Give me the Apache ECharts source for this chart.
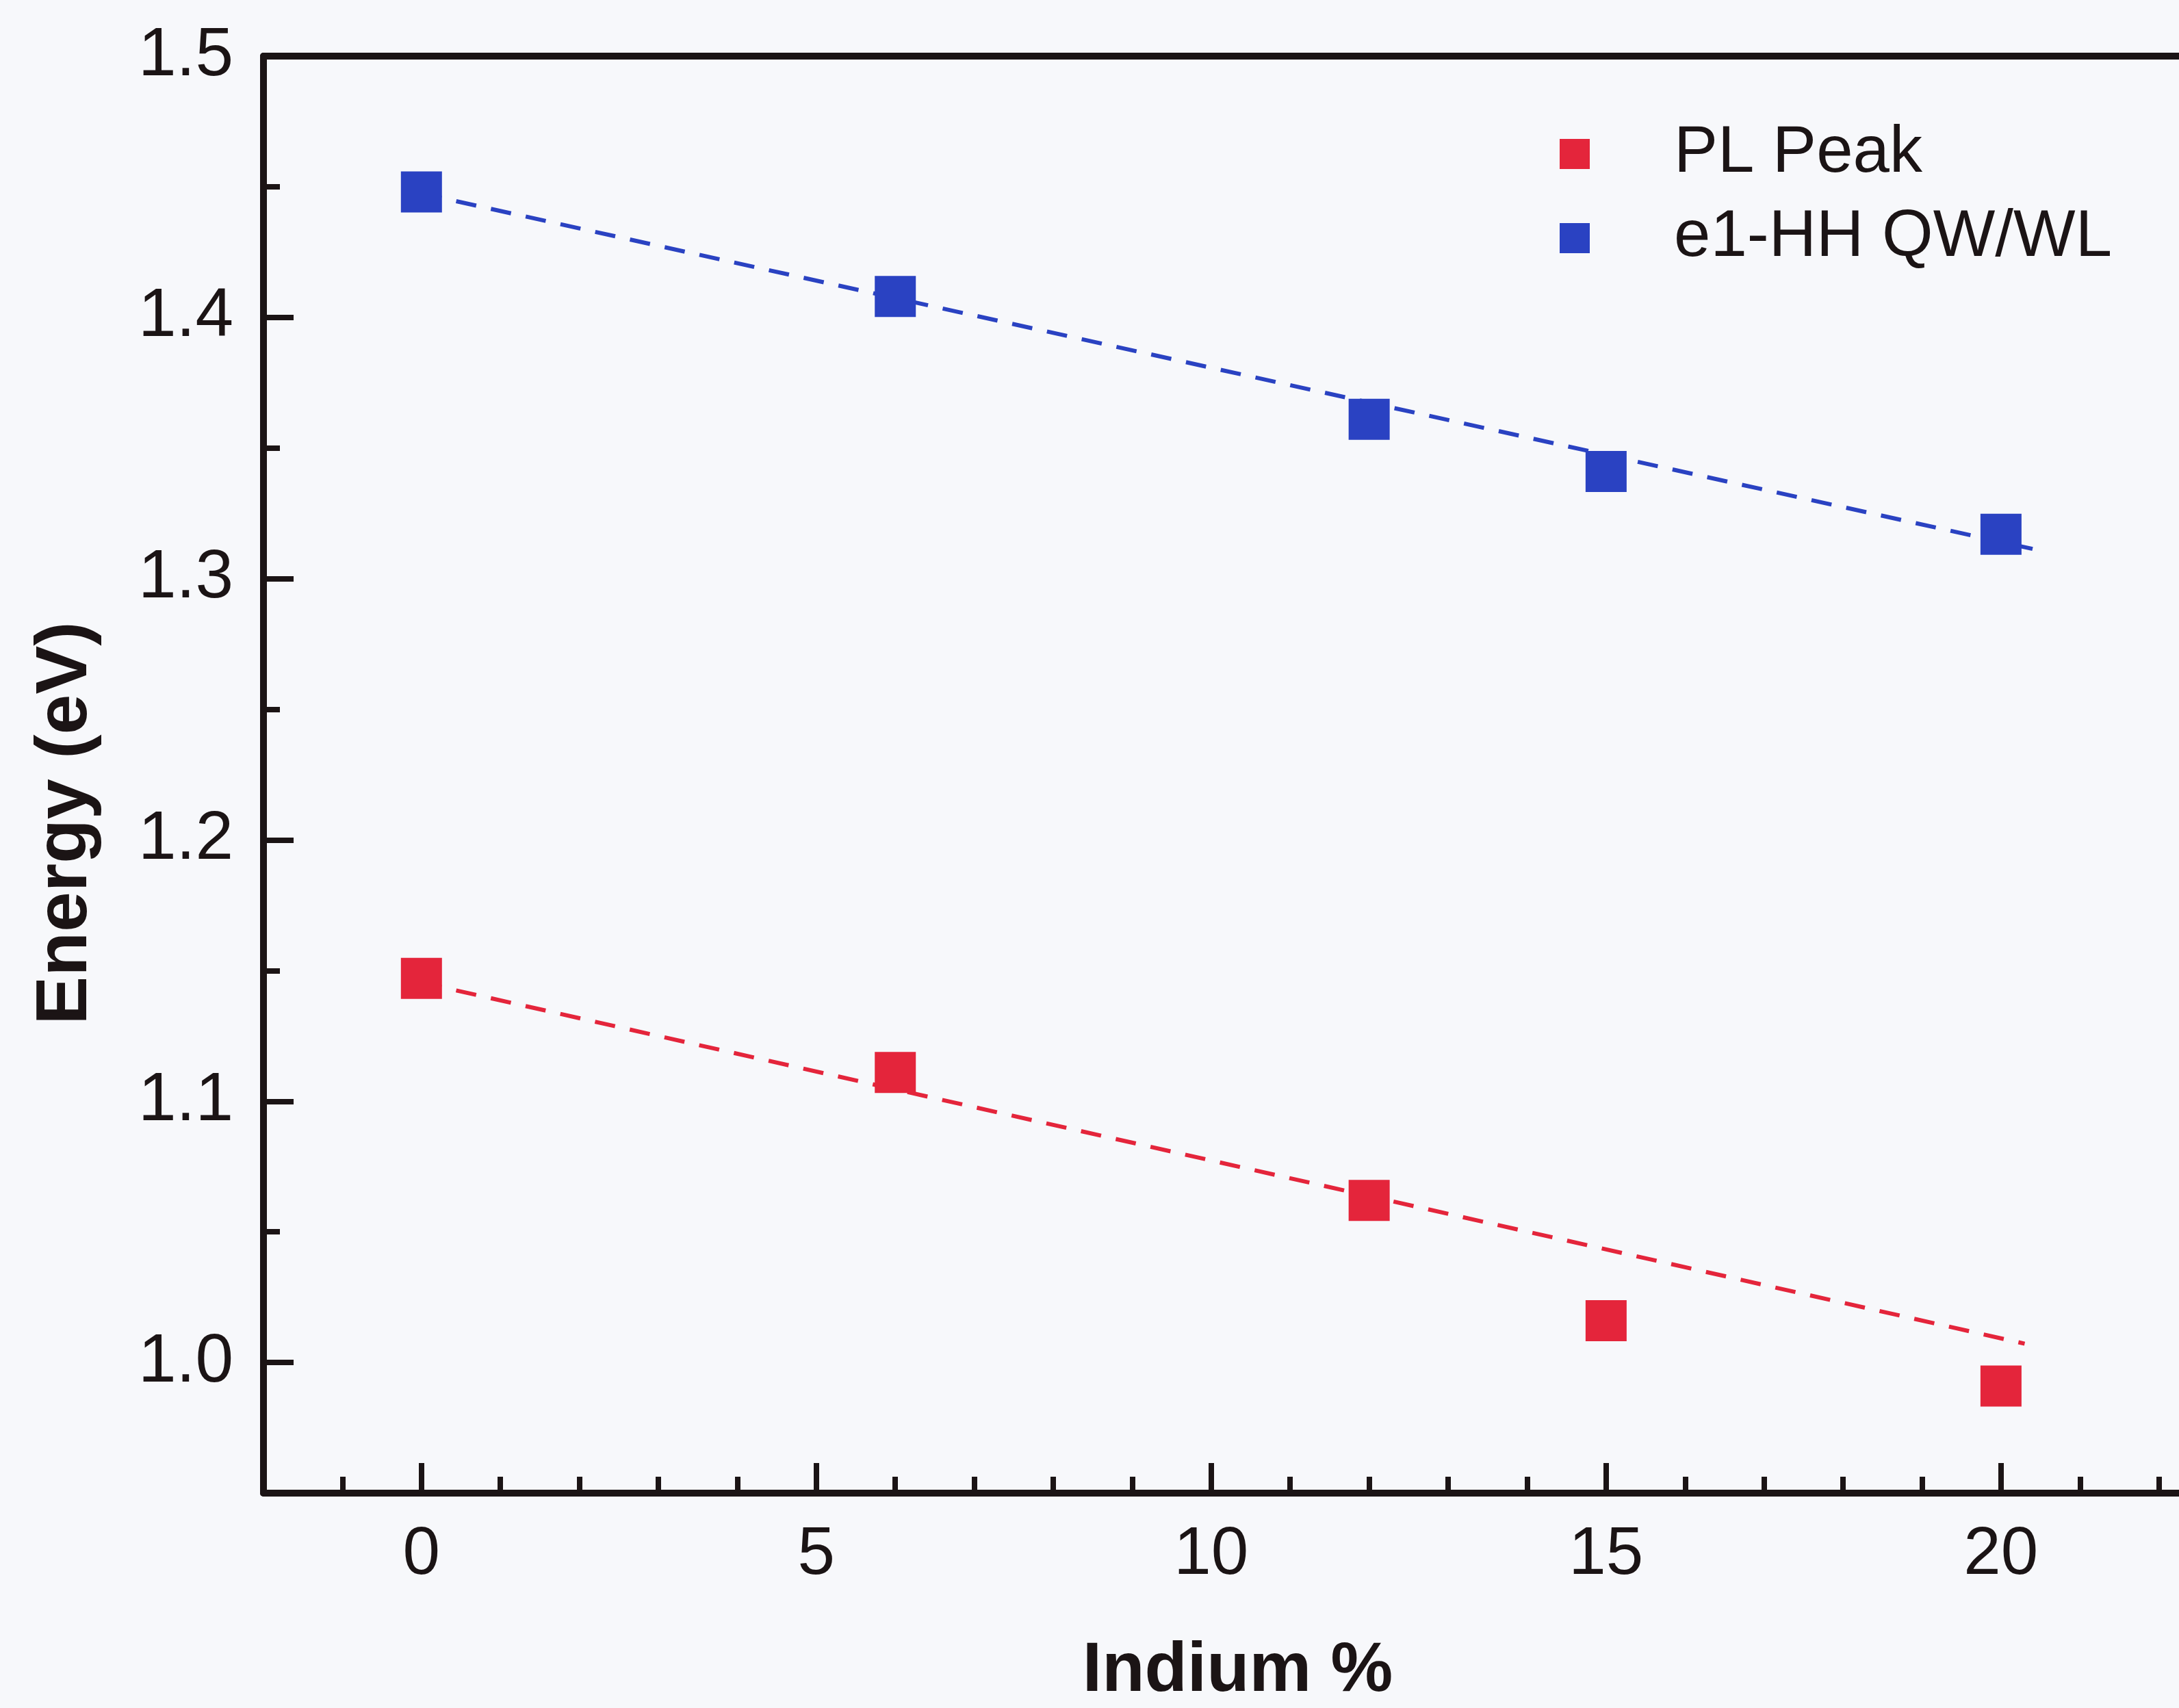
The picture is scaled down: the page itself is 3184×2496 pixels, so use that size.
<!DOCTYPE html>
<html>
<head>
<meta charset="utf-8">
<script src="https://cdn.jsdelivr.net/npm/echarts@6/dist/echarts.min.js"></script>
<style>
  html, body { margin: 0; padding: 0; background: #f7f8fb; }
  #chart { width: 3184px; height: 2496px; }
</style>
</head>
<body>
<div id="chart"></div>
<script>
// ---- data ----
const indium = [0, 6, 12, 15, 20];
const plPeak = [1.147, 1.111, 1.062, 1.016, 0.991];
const e1hh   = [1.448, 1.408, 1.361, 1.341, 1.317];
// dashed linear-fit endpoints [x, y]
const plFitX = [0, 20.3];
const plFitY = [1.1454, 1.0072];
const e1FitX = [0, 20.4];
const e1FitY = [1.4474, 1.3114];
// ticks
const xMajorTicks = [0, 5, 10, 15, 20];
const xMinorTicks = [-1, 1, 2, 3, 4, 6, 7, 8, 9, 11, 12, 13, 14, 16, 17, 18, 19, 21, 22];
const yMajorTicks = [1.0, 1.1, 1.2, 1.3, 1.4, 1.5];
const yMinorTicks = [1.05, 1.15, 1.25, 1.35, 1.45];
const seriesNames = ['PL Peak', 'e1-HH QW/WL'];
const colors = { red: '#e4253b', blue: '#2a42c2' };

const INK = '#1b1415';
const FONT = '"Liberation Sans", Arial, Helvetica, sans-serif';
const X_MIN = -2, X_MAX = 22.67, Y_MIN = 0.95, Y_MAX = 1.5;

const zip = (xs, ys) => xs.map((x, i) => [x, ys[i]]);

const chart = echarts.init(document.getElementById('chart'), null, { renderer: 'canvas' });
chart.setOption({
  animation: false,
  backgroundColor: '#f7f8fb',
  grid: { left: 385, right: -48, top: 82, bottom: 314, containLabel: false, outerBoundsMode: 'none' },
  legend: {
    data: seriesNames,
    orient: 'vertical',
    left: 2274,
    top: 172,
    icon: 'rect',
    itemWidth: 44,
    itemHeight: 44,
    itemGap: 27,
    itemStyle: { opacity: 1 },
    textStyle: { fontFamily: FONT, fontSize: 96, color: INK, padding: [0, 0, 0, 118] }
  },
  xAxis: [
    {
      type: 'value', position: 'bottom', min: X_MIN, max: X_MAX,
      axisLine: { show: true, onZero: false, lineStyle: { color: INK, width: 10 } },
      axisTick: { show: true, inside: true, length: 44, customValues: xMajorTicks, lineStyle: { color: INK, width: 8 } },
      axisLabel: { show: true, customValues: xMajorTicks, margin: 42, fontFamily: FONT, fontSize: 98, color: INK },
      splitLine: { show: false },
      name: 'Indium %', nameLocation: 'middle', nameGap: 210,
      nameTextStyle: { fontFamily: FONT, fontSize: 102, fontWeight: 'bold', color: INK }
    },
    {
      type: 'value', position: 'bottom', min: X_MIN, max: X_MAX,
      axisLine: { show: false, onZero: false },
      axisTick: { show: true, inside: true, length: 24, customValues: xMinorTicks, lineStyle: { color: INK, width: 8 } },
      axisLabel: { show: false },
      splitLine: { show: false }
    },
    {
      type: 'value', position: 'top', min: X_MIN, max: X_MAX,
      axisLine: { show: true, onZero: false, lineStyle: { color: INK, width: 10 } },
      axisTick: { show: false }, axisLabel: { show: false }, splitLine: { show: false }
    }
  ],
  yAxis: [
    {
      type: 'value', position: 'left', min: Y_MIN, max: Y_MAX,
      axisLine: { show: true, onZero: false, lineStyle: { color: INK, width: 10 } },
      axisTick: { show: true, inside: true, length: 44, customValues: yMajorTicks, lineStyle: { color: INK, width: 8 } },
      axisLabel: { show: true, customValues: yMajorTicks, margin: 44, fontFamily: FONT, fontSize: 100, color: INK,
                   formatter: v => v.toFixed(1) },
      splitLine: { show: false }
    },
    {
      type: 'value', position: 'left', min: Y_MIN, max: Y_MAX,
      axisLine: { show: false, onZero: false },
      axisTick: { show: true, inside: true, length: 24, customValues: yMinorTicks, lineStyle: { color: INK, width: 8 } },
      axisLabel: { show: false },
      splitLine: { show: false }
    }
  ],
  graphic: [
    {
      type: 'text', x: 97, y: 1203, rotation: Math.PI / 2,
      style: { text: 'Energy (eV)', fontFamily: FONT, fontSize: 106, fontWeight: 'bold', fill: INK,
               align: 'center', verticalAlign: 'middle' }
    }
  ],
  series: [
    {
      name: 'PL Peak fit', type: 'line', xAxisIndex: 0, yAxisIndex: 0, data: zip(plFitX, plFitY),
      symbol: 'none', silent: true, z: 1,
      lineStyle: { color: colors.red, width: 6, type: [30, 22] }
    },
    {
      name: 'e1-HH QW/WL fit', type: 'line', xAxisIndex: 0, yAxisIndex: 0, data: zip(e1FitX, e1FitY),
      symbol: 'none', silent: true, z: 1,
      lineStyle: { color: colors.blue, width: 6, type: [30, 22] }
    },
    {
      name: seriesNames[0], type: 'scatter', xAxisIndex: 0, yAxisIndex: 0, data: zip(indium, plPeak),
      symbol: 'rect', symbolSize: 60, z: 3, itemStyle: { color: colors.red, opacity: 1 }
    },
    {
      name: seriesNames[1], type: 'scatter', xAxisIndex: 0, yAxisIndex: 0, data: zip(indium, e1hh),
      symbol: 'rect', symbolSize: 60, z: 3, itemStyle: { color: colors.blue, opacity: 1 }
    }
  ]
});
</script>
</body>
</html>
